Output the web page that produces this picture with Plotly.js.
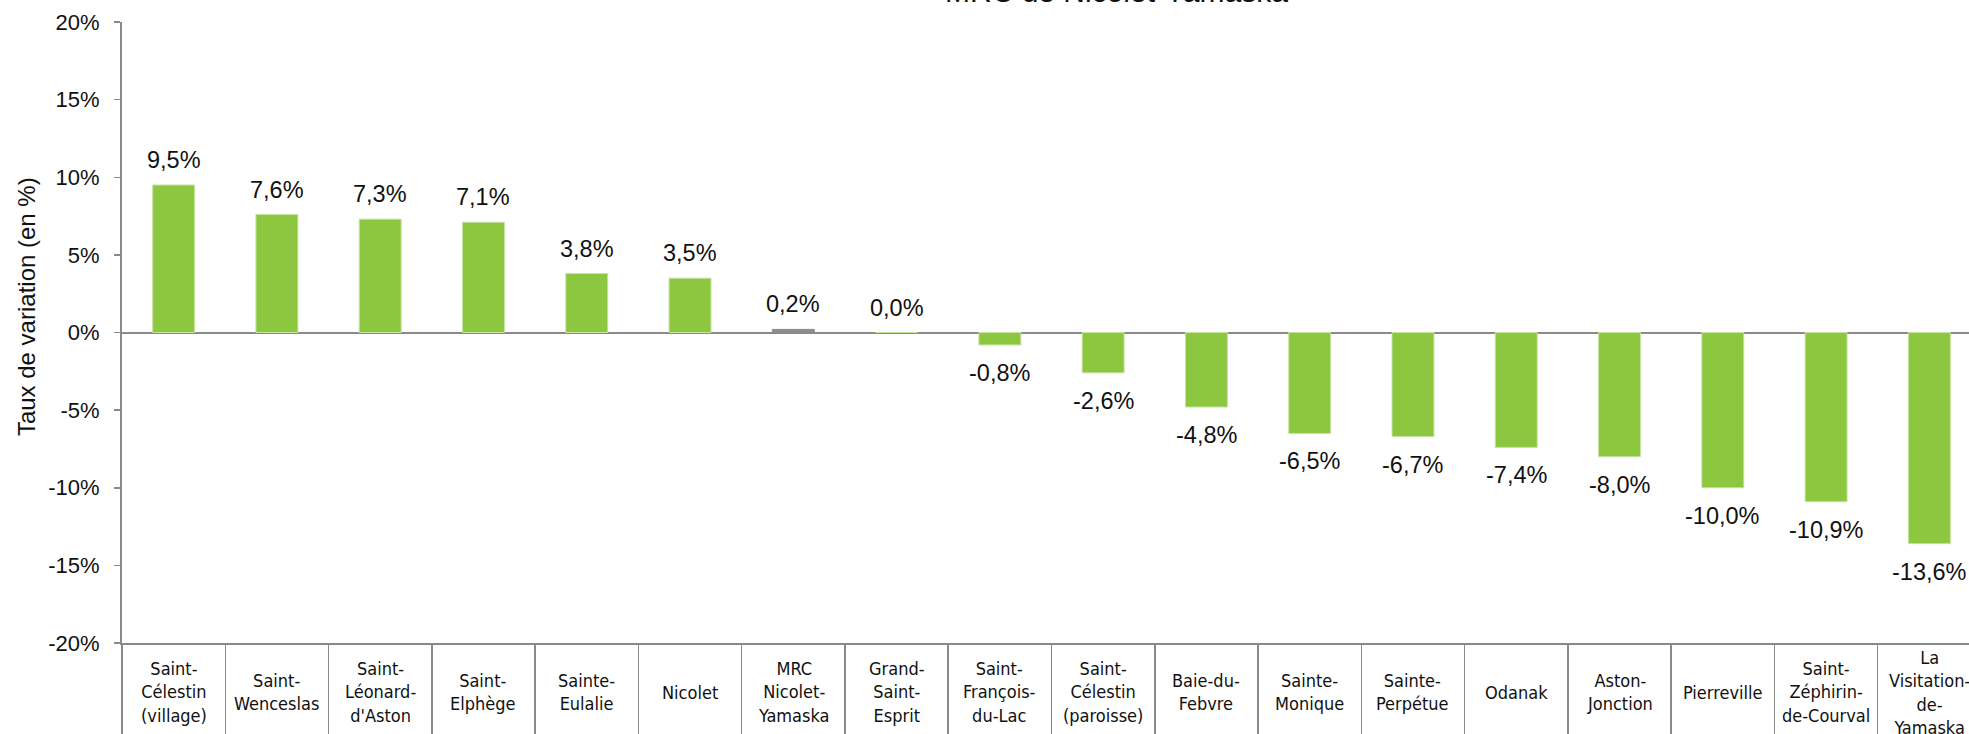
<!DOCTYPE html>
<html>
<head>
<meta charset="utf-8">
<script src="https://cdn.plot.ly/plotly-3.0.1.min.js"></script>
<style>
  body { margin: 0; overflow: hidden; background: #fff; }
  #chart { position: absolute; top: -40px; left: 0; width: 2011px; height: 823px; }
</style>
</head>
<body>
<div id="chart"></div>
<script>
// communes de la MRC, taux de variation de la population (en %)
const communes = [
    'Saint-<br>Célestin<br>(village)',
    'Saint-<br>Wenceslas',
    'Saint-<br>Léonard-<br>d\'Aston',
    'Saint-<br>Elphège',
    'Sainte-<br>Eulalie',
    'Nicolet',
    'MRC<br>Nicolet-<br>Yamaska',
    'Grand-<br>Saint-<br>Esprit',
    'Saint-<br>François-<br>du-Lac',
    'Saint-<br>Célestin<br>(paroisse)',
    'Baie-du-<br>Febvre',
    'Sainte-<br>Monique',
    'Sainte-<br>Perpétue',
    'Odanak',
    'Aston-<br>Jonction',
    'Pierreville',
    'Saint-<br>Zéphirin-<br>de-Courval',
    'La<br>Visitation-<br>de-<br>Yamaska'
];
const variation = [9.5, 7.6, 7.3, 7.1, 3.8, 3.5, 0.2, 0.0, -0.8, -2.6, -4.8, -6.5, -6.7, -7.4, -8.0, -10.0, -10.9, -13.6];
const yTicks = [-20, -15, -10, -5, 0, 5, 10, 15, 20];

const titre = 'MRC de Nicolet-Yamaska';
const titreAxe = 'Taux de variation (en %)';

const green = '#8dc63f';
const grey = '#8c8c8c';
const axisGrey = '#8a8a8a';
const font = '"Liberation Sans", Arial, sans-serif';
const narrow = '"Liberation Sans Narrow", "Arial Narrow", "DejaVu Sans Condensed", sans-serif';

const fmt = v => v.toFixed(1).replace('.', ',') + '%';
const isMrc = name => name.startsWith('MRC');

const trace = {
    x: communes,
    y: variation,
    type: 'bar',
    marker: {
        color: communes.map(c => isMrc(c) ? grey : green),
        line: { color: communes.map(c => isMrc(c) ? grey : '#c6e3a0'), width: 1 }
    },
    hoverinfo: 'skip'
};

// valeurs au-dessus / sous les barres
const valueLabels = communes.map((c, i) => ({
    x: c, y: variation[i], xref: 'x', yref: 'y',
    text: fmt(variation[i]),
    showarrow: false,
    yanchor: variation[i] >= 0 ? 'bottom' : 'top',
    yshift: variation[i] >= 0 ? 10 : -13,
    font: { family: font, size: 23.5, color: '#111' }
}));

// noms des communes, centrés dans chaque case
const nameLabels = communes.map(c => ({
    x: c, y: 0, xref: 'x', yref: 'paper',
    text: c,
    showarrow: false,
    yanchor: 'middle',
    yshift: -49,
    font: { family: narrow, size: 18, color: '#111' }
}));

const layout = {
    width: 2011,
    height: 823,
    margin: { l: 122, r: 30, t: 62, b: 140 },
    paper_bgcolor: '#fff',
    plot_bgcolor: '#fff',
    showlegend: false,
    bargap: 0.594,
    xaxis: {
        type: 'category',
        tickson: 'boundaries',
        ticks: 'outside',
        ticklen: 160,
        tickwidth: 1.5,
        tickcolor: axisGrey,
        showticklabels: false,
        showline: true,
        linecolor: axisGrey,
        linewidth: 2,
        showgrid: false,
        zeroline: false
    },
    yaxis: {
        range: [-20, 20],
        tickvals: yTicks,
        ticktext: yTicks.map(v => v + '%'),
        ticks: 'outside',
        ticklen: 6,
        tickwidth: 1.5,
        tickcolor: axisGrey,
        ticklabelstandoff: 10,
        tickfont: { family: font, size: 22, color: '#111' },
        showline: true,
        linecolor: axisGrey,
        linewidth: 2,
        showgrid: false,
        zeroline: true,
        zerolinecolor: axisGrey,
        zerolinewidth: 2
    },
    annotations: [
        ...valueLabels,
        ...nameLabels,
        {
            text: titreAxe, xref: 'paper', yref: 'paper', x: -0.0516, y: 0.541,
            textangle: -90, showarrow: false, xanchor: 'center', yanchor: 'middle',
            font: { family: font, size: 24, color: '#111' }
        },
        {
            text: titre, xref: 'paper', yref: 'paper', x: 0.5347, y: 1,
            xanchor: 'center', yanchor: 'bottom', yshift: 12, showarrow: false,
            font: { family: font, size: 30, color: '#111' }
        }
    ]
};

Plotly.newPlot('chart', [trace], layout, { displayModeBar: false, staticPlot: true });
</script>
</body>
</html>
